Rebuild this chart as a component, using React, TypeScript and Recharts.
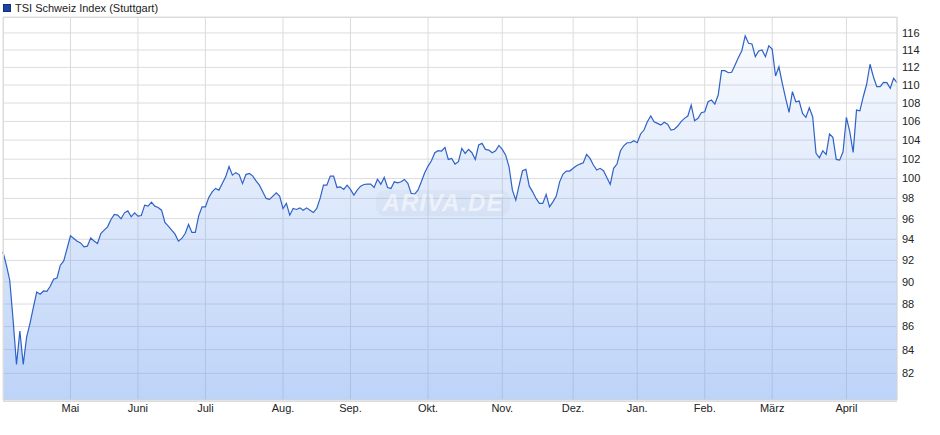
import { AreaChart, Area, XAxis, YAxis, CartesianGrid } from 'recharts'

// trading-day closes (one per trading day)
const closes = [
  92.8, 91.55, 90.16, 86.55, 82.75, 85.61, 82.75, 85.09, 86.29, 87.71,
  89.09, 88.88, 89.18, 89.15, 89.61, 90.25, 90.37, 91.55, 91.95, 93.12,
  94.33, 94.08, 93.82, 93.65, 93.27, 93.34, 94.13, 93.84, 93.6, 94.56,
  94.88, 95.2, 95.92, 96.41, 96.34, 95.98, 96.57, 96.76, 96.18, 96.57,
  96.24, 96.31, 97.33, 97.23, 97.63, 97.23, 97.1, 96.83, 95.63, 95.27,
  94.88, 94.49, 93.82, 94.08, 94.56, 95.43, 94.66, 94.66, 96.27, 97.16,
  97.16, 98.1, 98.66, 99.0, 98.83, 99.51, 100.18, 101.23, 100.35, 100.61,
  100.41, 99.49, 100.41, 100.53, 100.28, 99.77, 99.33, 98.66, 98.0, 97.9,
  98.23, 98.56, 98.23, 97.0, 97.5, 96.34, 97.0, 96.9, 97.06, 96.83,
  97.06, 96.83, 96.6, 97.0, 98.0, 99.33, 99.33, 100.25, 100.25, 99.1,
  99.16, 98.9, 99.33, 98.9, 98.33, 98.83, 99.23, 99.4, 99.43, 99.43,
  99.1, 99.94, 99.43, 100.12, 99.1, 99.0, 99.67, 99.57, 99.67, 99.91,
  99.51, 98.5, 98.43, 98.83, 99.67, 100.59, 101.28, 101.83, 102.67, 102.88,
  102.85, 103.23, 101.97, 102.08, 101.49, 101.73, 103.13, 102.6, 103.02, 102.67,
  101.97, 103.48, 103.65, 103.02, 102.95, 102.67, 102.88, 103.44, 103.02, 102.42,
  101.21, 98.83, 97.83, 99.33, 100.8, 100.94, 99.23, 98.66, 98.0, 97.5,
  97.5, 98.4, 97.16, 97.66, 98.23, 99.67, 100.46, 100.77, 100.77, 101.05,
  101.31, 101.49, 101.62, 102.5, 102.08, 101.39, 100.87, 101.05, 100.8, 100.12,
  99.4, 101.05, 101.49, 102.85, 103.4, 103.72, 103.72, 103.93, 103.72, 104.65,
  105.07, 105.97, 106.6, 105.97, 105.79, 105.61, 105.9, 105.69, 105.07, 105.15,
  105.5, 105.97, 106.33, 106.58, 107.78, 106.07, 106.33, 106.94, 107.05, 108.14,
  108.33, 107.89, 108.89, 111.62, 111.62, 111.39, 111.44, 112.28, 113.12, 113.92,
  115.65, 114.79, 114.71, 113.23, 113.89, 114.0, 113.23, 114.49, 114.11, 111.02,
  112.07, 110.2, 108.52, 106.98, 109.26, 108.14, 108.22, 106.87, 106.44, 107.48,
  106.51, 102.6, 102.14, 102.88, 102.5, 104.65, 104.29, 101.97, 101.9, 102.77,
  106.44, 104.89, 102.71, 107.23, 107.15, 108.7, 110.09, 112.36, 110.94, 109.82,
  109.82, 110.31, 110.27, 109.64, 110.76, 110.27,
]

const monthLabels = ['Mai', 'Juni', 'Juli', 'Aug.', 'Sep.', 'Okt.', 'Nov.', 'Dez.', 'Jan.', 'Feb.', 'März', 'April']
const monthStarts = [20, 40, 60, 83, 103, 126, 148, 169, 188, 208, 228, 250]
const yTicks = [82, 84, 86, 88, 90, 92, 94, 96, 98, 100, 102, 104, 106, 108, 110, 112, 114, 116]

const data = closes.map((value, i) => ({ i, value }))

const font = '"Liberation Sans", Arial, sans-serif'

export default function App() {
  return (
    <div style={{ position: 'absolute', left: 0, top: 0, width: 940, height: 435, background: '#fff', fontFamily: font }}>
      <div style={{ position: 'absolute', left: 3, top: 2, display: 'flex', alignItems: 'center', fontSize: 11, color: '#222' }}>
        <span style={{ width: 6, height: 6, background: '#1f44a0', border: '1px solid #12307a', marginRight: 4, display: 'inline-block' }} />
        TSI Schweiz Index (Stuttgart)
      </div>
      <AreaChart width={940} height={435} data={data} margin={{ top: 17, right: 3, left: 3, bottom: 15 }}>
        <defs>
          <linearGradient id="tsiFill" x1="0" y1="0" x2="0" y2="1">
            <stop offset="0%" stopColor="#6f9ff0" stopOpacity={0.04} />
            <stop offset="100%" stopColor="#6f9ff0" stopOpacity={0.46} />
          </linearGradient>
        </defs>
        <CartesianGrid stroke="#dcdcdc" strokeWidth={1} />
        <XAxis
          type="number"
          dataKey="i"
          domain={[0, closes.length - 1]}
          ticks={monthStarts}
          interval={0}
          tickFormatter={(v) => monthLabels[monthStarts.indexOf(v)] ?? ''}
          tickSize={0}
          tickMargin={4}
          height={20}
          axisLine={{ stroke: '#dcdcdc' }}
          tick={{ fontSize: 11, fill: '#222', fontFamily: font }}
        />
        <YAxis
          orientation="right"
          type="number"
          scale="log"
          domain={[79.8, 117.9]}
          allowDataOverflow
          ticks={yTicks}
          interval={0}
          tickSize={0}
          tickMargin={5}
          width={40}
          axisLine={{ stroke: '#dcdcdc' }}
          tick={{ fontSize: 11, fill: '#222', fontFamily: font }}
        />
        <Area
          type="linear"
          dataKey="value"
          baseValue="dataMin"
          stroke="#2f62c6"
          strokeWidth={1.2}
          fill="url(#tsiFill)"
          fillOpacity={1}
          dot={false}
          activeDot={false}
          isAnimationActive={false}
        />
      </AreaChart>
      <div style={{ position: 'absolute', left: 3, top: 17, width: 893, height: 383, border: '1px solid #dcdcdc', borderRight: 'none', pointerEvents: 'none' }} />
      <div
        style={{
          position: 'absolute',
          left: 376,
          top: 190,
          width: 134,
          height: 26,
          borderRadius: 9,
          background: 'rgba(150,160,180,0.08)',
          color: 'rgba(255,255,255,0.55)',
          fontSize: 24,
          fontWeight: 'bold',
          fontStyle: 'italic',
          lineHeight: '26px',
          textAlign: 'center',
          letterSpacing: 1,
          pointerEvents: 'none',
        }}
      >
        ARIVA.DE
      </div>
    </div>
  )
}
